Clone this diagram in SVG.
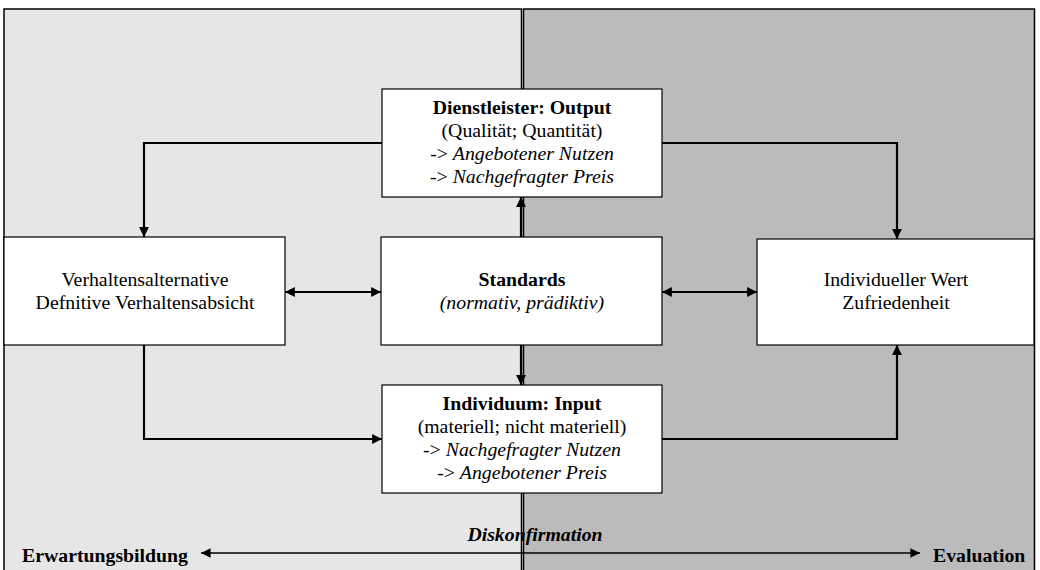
<svg xmlns="http://www.w3.org/2000/svg" width="1040" height="570" viewBox="0 0 1040 570">
<style>
.panel{stroke:#000;stroke-width:1.5}
.box{fill:#fff;stroke:#000;stroke-width:1.2}
text{font-family:'Liberation Serif','Times New Roman','DejaVu Serif',serif;font-size:19.8px;fill:#000;text-anchor:middle}
.b{font-weight:bold}
.i{font-style:italic}
.c{fill:none;stroke:#000;stroke-width:2.2}
</style>
<defs>
<marker id="ah" viewBox="0 0 10 10" refX="10" refY="5" markerWidth="4.5" markerHeight="4.5" orient="auto-start-reverse" markerUnits="strokeWidth">
<path d="M0,0 L10,5 L0,10 z" fill="#000"/>
</marker>
<marker id="ahs" viewBox="0 0 10 10" refX="10" refY="5" markerWidth="7" markerHeight="6" orient="auto-start-reverse" markerUnits="strokeWidth">
<path d="M0,0 L10,5 L0,10 z" fill="#000"/>
</marker>
</defs>
<g id="panels">
<rect class="panel" x="4" y="9" width="517.5" height="570" fill="#e6e6e6"/>
<rect class="panel" x="523.5" y="9" width="511" height="570" fill="#bbbbbb"/>
</g>
<g id="connectors">
<path class="c" d="M382,143 H144 V237" marker-end="url(#ah)"/>
<path class="c" d="M662,143 H897 V239" marker-end="url(#ah)"/>
<path class="c" d="M144,345 V439 H382" marker-end="url(#ah)"/>
<path class="c" d="M662,439 H897 V345" marker-end="url(#ah)"/>
<path class="c" d="M285,292 H381" marker-start="url(#ah)" marker-end="url(#ah)"/>
<path class="c" d="M662,292 H757" marker-start="url(#ah)" marker-end="url(#ah)"/>
<path class="c" d="M521,237 V197" marker-end="url(#ah)"/>
<path class="c" d="M521,345 V385" marker-end="url(#ah)"/>
<path fill="none" stroke="#000" stroke-width="1.6" d="M201,553 H920" marker-start="url(#ahs)" marker-end="url(#ahs)"/>
</g>
<g id="top">
<rect class="box" x="382" y="89" width="280" height="108"/>
<text class="b" x="522" y="114">Dienstleister: Output</text>
<text x="522" y="137">(Qualität; Quantität)</text>
<text x="522" y="160">-&gt; <tspan class="i">Angebotener Nutzen</tspan></text>
<text x="522" y="183">-&gt; <tspan class="i">Nachgefragter Preis</tspan></text>
</g>
<g id="standards">
<rect class="box" x="381" y="237" width="281" height="108"/>
<text class="b" x="522" y="286">Standards</text>
<text class="i" x="522" y="309">(normativ, prädiktiv)</text>
</g>
<g id="bottom">
<rect class="box" x="382" y="385" width="280" height="108"/>
<text class="b" x="522" y="410">Individuum: Input</text>
<text x="522" y="433">(materiell; nicht materiell)</text>
<text x="522" y="456">-&gt; <tspan class="i">Nachgefragter Nutzen</tspan></text>
<text x="522" y="479">-&gt; <tspan class="i">Angebotener Preis</tspan></text>
</g>
<g id="left">
<rect class="box" x="4" y="237" width="281" height="108"/>
<text x="145" y="286">Verhaltensalternative</text>
<text x="145" y="309">Defnitive Verhaltensabsicht</text>
</g>
<g id="right">
<rect class="box" x="757" y="239" width="277" height="106"/>
<text x="896" y="286">Individueller Wert</text>
<text x="896" y="309">Zufriedenheit</text>
</g>
<g id="labels">
<text class="b" x="22" y="562" style="text-anchor:start">Erwartungsbildung</text>
<text class="b" x="933" y="562" style="text-anchor:start">Evaluation</text>
<text class="b i" x="535" y="541">Diskonfirmation</text>
</g>
</svg>
